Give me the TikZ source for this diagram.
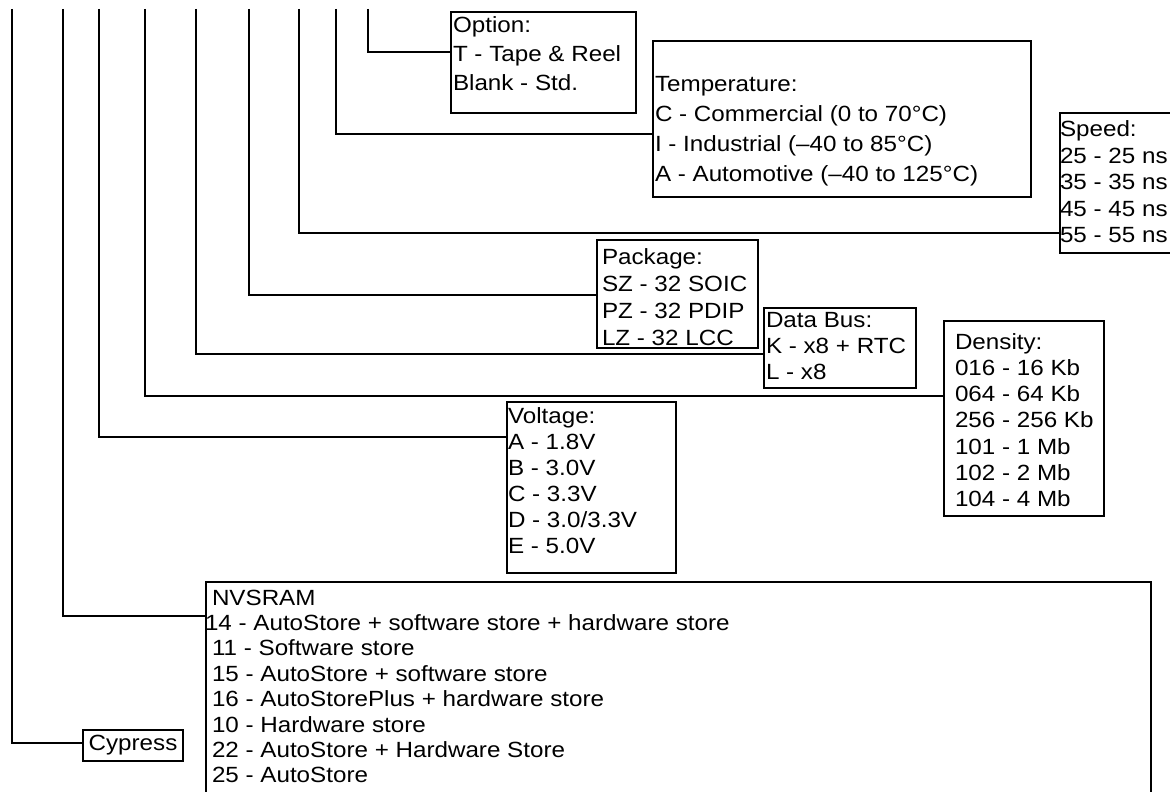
\documentclass[tikz,border=0pt]{standalone}
\usepackage{fontspec}
\setmainfont{Liberation Sans}[FakeStretch=1.1]
% text block of a field box: width, height, first baseline, lines
\newcommand{\fieldtext}[4]{\parbox[t][#2]{#1}{\leftskip=1pt\rule{0pt}{#3}#4}}

\begin{document}
\begin{tikzpicture}[x=0.5pt, y=-0.5pt,
    field/.style={draw, line width=1pt, inner sep=0pt, outer sep=0pt, anchor=north west},
    link/.style={line width=1pt}]
    \useasboundingbox (0,0) rectangle (1170,791);

    % Free ends at the top
    \coordinate (t-cyp) at (12,9);
    \coordinate (t-fam) at (63,9);
    \coordinate (t-volt) at (99,9);
    \coordinate (t-dens) at (145,9);
    \coordinate (t-bus) at (196,9);
    \coordinate (t-pkg) at (249,9);
    \coordinate (t-spd) at (299,9);
    \coordinate (t-temp) at (336,9);
    \coordinate (t-opt) at (368,9);

    % Field boxes
    \node[field, font=\fontsize{11}{14.5}\selectfont] (option) at (451,12.5)
        {\fieldtext{92.5pt}{50.25pt}{10.25pt}{Option:\\T - Tape \& Reel\\Blank - Std.}};
    \node[field, font=\fontsize{11}{15}\selectfont] (temperature) at (653,41)
        {\fieldtext{189pt}{78pt}{25.5pt}{Temperature:\\C - Commercial (0 to 70°C)\\I - Industrial (–40 to 85°C)\\A - Automotive (–40 to 125°C)}};
    \node[field, font=\fontsize{11}{13.25}\selectfont] (speed) at (1060,113)
        {\fieldtext{65pt}{70pt}{12pt}{\leftskip=0pt Speed:\\25 - 25 ns\\35 - 35 ns\\45 - 45 ns\\55 - 55 ns}};
    \node[field, font=\fontsize{11}{13.5}\selectfont] (package) at (597,240)
        {\fieldtext{80.5pt}{54pt}{12pt}{\leftskip=2.5pt Package:\\SZ - 32 SOIC\\PZ - 32 PDIP\\LZ - 32 LCC}};
    \node[field, font=\fontsize{11}{13}\selectfont] (databus) at (764,308)
        {\fieldtext{76pt}{40pt}{9.5pt}{Data Bus:\\K - x8 + RTC\\L - x8}};
    \node[field, font=\fontsize{11}{13.15}\selectfont] (density) at (944,321)
        {\fieldtext{80pt}{97.5pt}{14pt}{\leftskip=5.5pt Density:\\016 - 16 Kb\\064 - 64 Kb\\256 - 256 Kb\\101 - 1 Mb\\102 - 2 Mb\\104 - 4 Mb}};
    \node[field, font=\fontsize{11}{13}\selectfont] (voltage) at (507,402)
        {\fieldtext{84.5pt}{85.5pt}{10.5pt}{\leftskip=0.5pt Voltage:\\A - 1.8V\\B - 3.0V\\C - 3.3V\\D - 3.0/3.3V\\E - 5.0V}};
    \node[field, font=\fontsize{11}{12.7}\selectfont] (nvsram) at (206,582)
        {\fieldtext{472.5pt}{115pt}{11.5pt}{\leftskip=3pt NVSRAM\\\hspace*{-3.5pt}14 - AutoStore + software store + hardware store\\11 - Software store\\15 - AutoStore + software store\\16 - AutoStorePlus + hardware store\\10 - Hardware store\\22 - AutoStore + Hardware Store\\25 - AutoStore}};
    \node[field, font=\fontsize{11}{13}\selectfont, minimum width=50pt, minimum height=15.5pt,
        text height=10pt, text depth=5.5pt] (cypress) at (83,730) {Cypress};

    % Connectors
    \draw[link] (t-cyp) |- ([yshift=-6.5pt]cypress.north west);
    \draw[link] (t-fam) |- ([yshift=-17pt]nvsram.north west);
    \draw[link] (t-volt) |- ([yshift=-17.5pt]voltage.north west);
    \draw[link] (t-dens) |- ([yshift=-37.5pt]density.north west);
    \draw[link, line width=0.6pt] (t-bus) |- ([yshift=-23pt]databus.north west);
    \draw[link] (t-pkg) |- ([yshift=-27.5pt]package.north west);
    \draw[link] (t-spd) |- ([yshift=-60pt]speed.north west);
    \draw[link] (t-temp) |- ([yshift=-46.5pt]temperature.north west);
    \draw[link] (t-opt) |- ([yshift=-19.75pt]option.north west);
\end{tikzpicture}
\end{document}
